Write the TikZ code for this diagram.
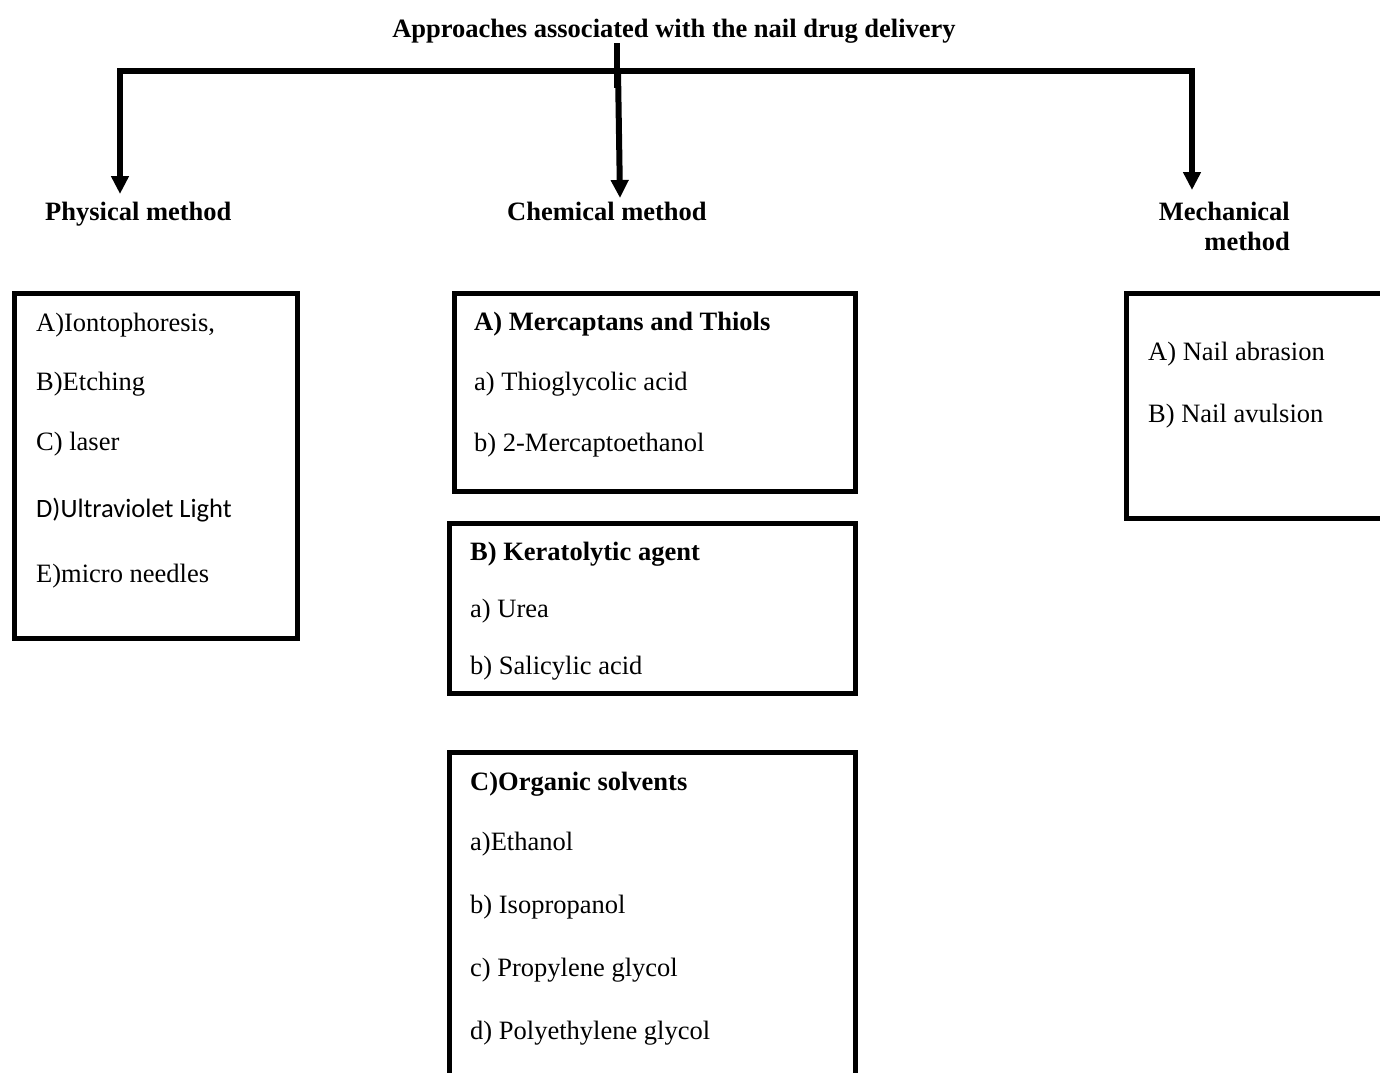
\documentclass[tikz,border=0pt]{standalone}
\usepackage{fontspec}
\setmainfont{Liberation Serif}
\newfontfamily\calfont{Carlito}
\usetikzlibrary{arrows.meta}
\begin{document}
\begin{tikzpicture}[x=1pt,y=-1pt,
  conn/.style={line width=6pt, line join=miter},
  arr/.style={conn, -{Triangle[length=18pt,width=17pt]}},
  box/.style={draw, line width=5pt, anchor=north west, inner sep=0pt, outer sep=0pt},
  txt/.style={anchor=base west, inner sep=0pt, font=\fontsize{26.5}{30}\selectfont},
  btxt/.style={txt, font=\fontsize{26.5}{30}\selectfont\bfseries}]
\clip (0,0) rectangle (1380,1072);
% title and connectors
\node[btxt, anchor=base] (title) at (674,37) {Approaches associated with the nail drug delivery};
\coordinate (hub) at (617,71);
\coordinate (hubLow) at (617,88);
\coordinate (pTip) at (120,194);
\coordinate (cTip) at (620,198);
\coordinate (mTip) at (1192,190);
\draw[conn] ([xshift=-57pt]title.south) -- (hubLow);
\draw[arr] (hub) -| (pTip);
\draw[arr] (hub) -| (mTip);
\draw[arr] ([xshift=1pt]hub) -- (cTip);
% method labels
\node[btxt] (physlab) at (45,220) {Physical method};
\node[btxt] (chemlab) at (507,220) {Chemical method};
\node[btxt, anchor=base east] (mechlab1) at (1290,220) {Mechanical};
\node[btxt, anchor=base east] (mechlab2) at (1290,250) {method};
% physical box
\node[box, minimum width=283pt, minimum height=345pt] (physbox) at (14.5,293.5) {};
\node[txt] (p1) at (36,331) {A)Iontophoresis,};
\node[txt] (p2) at (36,390) {B)Etching};
\node[txt] (p3) at (36,450) {C) laser};
\node[txt, font=\fontsize{26.5}{30}\calfont] (p4) at (36,517) {D)Ultraviolet Light};
\node[txt] (p5) at (36,582) {E)micro needles};
% chemical box A
\node[box, minimum width=401pt, minimum height=198pt] (chemA) at (454.5,293.5) {};
\node[btxt] (a0) at (474,330) {A) Mercaptans and Thiols};
\node[txt] (a1) at (474,390) {a) Thioglycolic acid};
\node[txt] (a2) at (474,451) {b) 2-Mercaptoethanol};
% chemical box B
\node[box, minimum width=406pt, minimum height=170pt] (chemB) at (449.5,523.5) {};
\node[btxt] (b0) at (470,560) {B) Keratolytic agent};
\node[txt] (b1) at (470,617) {a) Urea};
\node[txt] (b2) at (470,674) {b) Salicylic acid};
% chemical box C
\node[box, minimum width=406pt, minimum height=360pt] (chemC) at (449.5,752.5) {};
\node[btxt] (c0) at (470,790) {C)Organic solvents};
\node[txt] (c1) at (470,850) {a)Ethanol};
\node[txt] (c2) at (470,913) {b) Isopropanol};
\node[txt] (c3) at (470,976) {c) Propylene glycol};
\node[txt] (c4) at (470,1039) {d) Polyethylene glycol};
% mechanical box
\node[box, minimum width=300pt, minimum height=225pt] (mechbox) at (1126.5,293.5) {};
\node[txt] (m1) at (1148,360) {A) Nail abrasion};
\node[txt] (m2) at (1148,422) {B) Nail avulsion};
\end{tikzpicture}
\end{document}
